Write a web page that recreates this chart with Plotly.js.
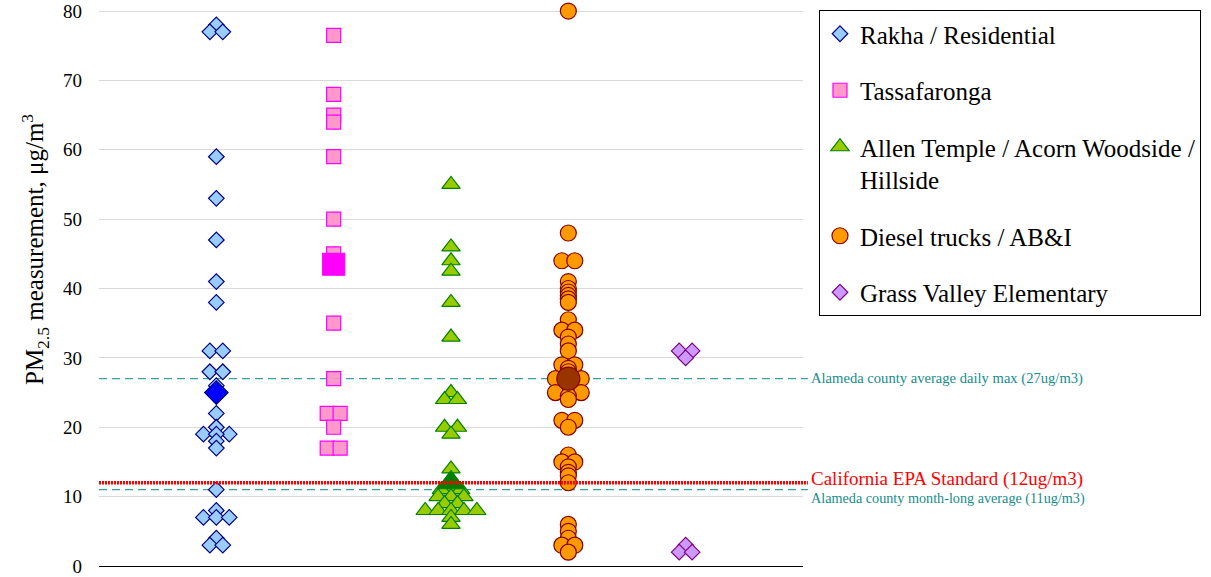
<!DOCTYPE html>
<html>
<head>
<meta charset="utf-8">
<script src="https://cdn.plot.ly/plotly-3.0.1.min.js"></script>
<style>html,body{margin:0;padding:0;background:#fff;}#chart{width:1211px;height:577px;}</style>
</head>
<body>
<div id="chart"></div>
<script>
// ---- data ----
const categories = ["Rakha / Residential", "Tassafaronga", "Allen Temple / Acorn Woodside /<br>Hillside", "Diesel trucks / AB&I", "Grass Valley Elementary"];

const rakhaValues = [78,77,77,59,53,47,41,38,31,31,28,28,26,22,20,19,19,19,18,17,11,8,7,7,7,4,3,3];
const rakhaJitter = [0,-1,1,0,0,0,0,0,-1,1,-1,1,0,0,0,-2,2,0,0,0,0,0,-2,0,2,0,-1,1];
const rakhaAvg = 25;

const tassValues = [76.5,68,65,64,59,50,45,35,27,22,22,20,17,17];
const tassJitter = [0,0,0,0,0,0,0,0,0,-1,1,0,-1,1];
const tassAvg = 43.5;

const allenValues = [55,46,44,42.5,38,33,25,24,24,20,20,19,14,12.5,11,11,11,10,10,10,9,9,8,8,8,8,8,7,6];
const allenJitter = [0,0,0,0,0,0,0,-1,1,-1,1,0,0,0,0,-1.5,1.5,-2,0,2,-1,1,-4,-2,0,2,4,0,0];
const allenAvg = 12;

const dieselValues = [80,48,44,44,41,40,39.5,39,38.5,38,35.5,34,34,33,32,31,29,29,28.5,28,27,27,26,25,25,24.5,24,21,21,20,16,15,15,14.3,13.5,13,12,6,5,4,3,3,2];
const dieselJitter = [0,0,-1,1,0,0,0,0,0,0,0,-1,1,0,0,0,-1,1,0,0,-2,2,0,-2,2,0,0,-1,1,0,0,-1,1,0,0,0,0,0,0,0,-1,1,0];
const dieselAvg = 27;

const grassValues = [31,31,30,3,2,2];
const grassJitter = [-1,1,0,0,-1,1];

const refDailyMax = 27;
const refEPA = 12;
const refMonthAvg = 11;
const yTicks = [0,10,20,30,40,50,60,70,80];

// ---- build ----
const STEP = 0.055;
function xs(catIndex, jit){ return jit.map(j => catIndex + 1 + j*STEP); }

const series = [
  {vals: rakhaValues, jit: rakhaJitter, avg: rakhaAvg, symbol:'diamond', size:12, fill:'#99CCFF', edge:'#000080', avgFill:'#0000FF', avgSize:18},
  {vals: tassValues, jit: tassJitter, avg: tassAvg, symbol:'square', size:14, fill:'#FF99CC', edge:'#FF00FF', avgFill:'#FF00FF', avgSize:22},
  {vals: allenValues, jit: allenJitter, avg: allenAvg, symbol:'triangle-up', size:16, fill:'#99CC00', edge:'#008000', avgFill:'#008000', avgSize:24},
  {vals: dieselValues, jit: dieselJitter, avg: dieselAvg, symbol:'circle', size:16, fill:'#FF9900', edge:'#800000', avgFill:'#993300', avgSize:23},
  {vals: grassValues, jit: grassJitter, avg: null, symbol:'diamond', size:12, fill:'#CC99FF', edge:'#800080'}
];

const traces = [];
series.forEach((s, i) => {
  traces.push({
    type:'scatter', mode:'markers', name: categories[i], legendgroup:'g'+i,
    x: xs(i, s.jit), y: s.vals, cliponaxis:false,
    marker:{symbol:s.symbol, size:s.size, color:s.fill, line:{color:s.edge, width:1.2}},
    hoverinfo:'y'
  });
});
series.forEach((s, i) => {
  if (s.avg === null) return;
  traces.push({
    type:'scatter', mode:'markers', name: categories[i]+' avg', legendgroup:'g'+i, showlegend:false,
    x:[i+1], y:[s.avg], cliponaxis:false,
    marker:{symbol:s.symbol, size:s.avgSize, color:s.avgFill, line:{color:s.edge, width:1.2}},
    hoverinfo:'y'
  });
});

const serif = 'Liberation Serif, Times New Roman, serif';
const teal = '#36A3A3';
const tealText = '#178C88';

const layout = {
  width:1211, height:577,
  margin:{l:99, r:408, t:10, b:11},
  paper_bgcolor:'#fff', plot_bgcolor:'#fff',
  font:{family:serif, color:'#000'},
  showlegend:true,
  xaxis:{range:[0,6], showgrid:false, zeroline:false, showticklabels:false, ticks:'',
         showline:true, linecolor:'#000', linewidth:1, fixedrange:true, automargin:false},
  yaxis:{range:[0,80.15], tickvals:yTicks, ticktext:yTicks.map(String), showgrid:true, gridcolor:'#D9D9D9', gridwidth:1,
         zeroline:false, showline:false, ticks:'', ticklabelstandoff:16, automargin:false,
         tickfont:{family:serif, size:19, color:'#000'}, fixedrange:true},
  legend:{x:1.0227, y:1.0, xanchor:'left', yanchor:'top', bgcolor:'#fff', bordercolor:'#000', borderwidth:1,
          maxheight:570,
          font:{family:serif, size:25, color:'#000'}, traceorder:'grouped', tracegroupgap:21, valign:'top', itemwidth:30},
  shapes:[
    {type:'line', xref:'paper', yref:'y', x0:0, x1:1.007, y0:refDailyMax, y1:refDailyMax, layer:'below',
     line:{color:teal, width:1.3, dash:'8px,5px'}},
    {type:'line', xref:'paper', yref:'y', x0:0, x1:1.007, y0:refMonthAvg, y1:refMonthAvg, layer:'below',
     line:{color:teal, width:1.3, dash:'8px,5px'}},
    {type:'line', xref:'paper', yref:'y', x0:0, x1:1.007, y0:refEPA, y1:refEPA, layer:'above',
     line:{color:'#FF0000', width:3.5, dash:'2px,1px'}}
  ],
  annotations:[
    {xref:'paper', yref:'y', x:1.009, y:refDailyMax, xanchor:'left', yanchor:'middle', showarrow:false,
     text:'Alameda county average daily max (27ug/m3)', font:{family:serif, size:14.6, color:tealText}},
    {xref:'paper', yref:'y', x:1.009, y:refEPA+0.5, xanchor:'left', yanchor:'middle', showarrow:false,
     text:'California EPA Standard (12ug/m3)', font:{family:serif, size:19, color:'#FF0000'}},
    {xref:'paper', yref:'y', x:1.009, y:refMonthAvg-1.3, xanchor:'left', yanchor:'middle', showarrow:false,
     text:'Alameda county month-long average (11ug/m3)', font:{family:serif, size:14.2, color:tealText}},
    {xref:'paper', yref:'paper', x:-0.091, y:0.57, xanchor:'center', yanchor:'middle', showarrow:false, textangle:-90,
     text:'PM<sub>2.5</sub> measurement, μg/m<sup>3</sup>', font:{family:serif, size:25, color:'#000'}}
  ]
};

Plotly.newPlot('chart', traces, layout, {displayModeBar:false, staticPlot:true});
</script>
</body>
</html>
